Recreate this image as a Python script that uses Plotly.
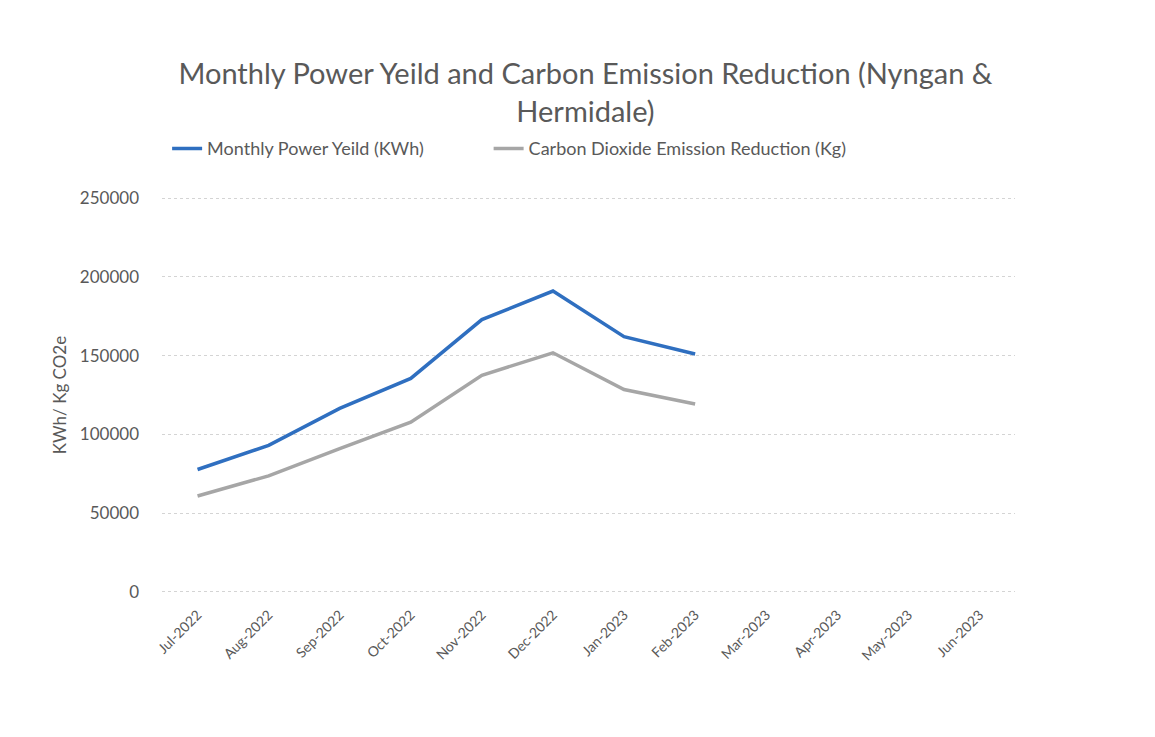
import plotly.graph_objects as go

months = ["Jul-2022", "Aug-2022", "Sep-2022", "Oct-2022", "Nov-2022", "Dec-2022",
          "Jan-2023", "Feb-2023", "Mar-2023", "Apr-2023", "May-2023", "Jun-2023"]
power_yield = [77700, 93000, 116500, 135500, 172900, 191000, 162000, 151000,
               None, None, None, None]
co2_reduction = [60900, 73700, 90900, 107700, 137500, 151800, 128500, 119300,
                 None, None, None, None]
y_ticks = [0, 50000, 100000, 150000, 200000, 250000]
series_names = ["Monthly Power Yeild (KWh)", "Carbon Dioxide Emission Reduction (Kg)"]

FONT = "Lato"
TXT = "#595959"
PAD = "\u00a0" * 13

fig = go.Figure()
fig.add_trace(go.Scatter(x=months, y=power_yield, mode="lines",
                         name=series_names[0] + PAD,
                         line=dict(color="#2F6FC0", width=3.5)))
fig.add_trace(go.Scatter(x=months, y=co2_reduction, mode="lines",
                         name=series_names[1],
                         line=dict(color="#A6A6A6", width=3.5)))

fig.update_layout(
    width=1139, height=721,
    paper_bgcolor="white", plot_bgcolor="white",
    margin=dict(l=154, r=132, t=189, b=136),
    font=dict(family=FONT, color=TXT),
    title=dict(text="Monthly Power Yeild and Carbon Emission Reduction (Nyngan &<br>Hermidale)",
               x=0.507, xanchor="center", y=0.894, yanchor="middle",
               font=dict(family=FONT, size=29, color=TXT)),
    legend=dict(orientation="h", x=0.006, xanchor="left", y=1.122, yanchor="middle",
                font=dict(family=FONT, size=18, color=TXT),
                bgcolor="rgba(0,0,0,0)", itemwidth=30),
    showlegend=True,
)
fig.update_xaxes(type="category", categoryorder="array", categoryarray=months,
                 tickangle=-45, tickfont=dict(family=FONT, size=14, color=TXT),
                 showgrid=False, showline=False, zeroline=False, ticks="",
                 ticklabelstandoff=10, range=[-0.5, 11.5])
fig.update_yaxes(range=[-700, 250700], tickvals=y_ticks,
                 ticktext=[str(v) for v in y_ticks],
                 tickfont=dict(family=FONT, size=17, color=TXT),
                 showgrid=True, gridcolor="#D4D4D4", gridwidth=1, griddash="dot",
                 zeroline=False, showline=False, ticks="", ticklabelstandoff=22,
                 title=dict(text="KWh/ Kg CO2e", standoff=8,
                            font=dict(family=FONT, size=17, color=TXT)))

fig.write_html("out.html")
